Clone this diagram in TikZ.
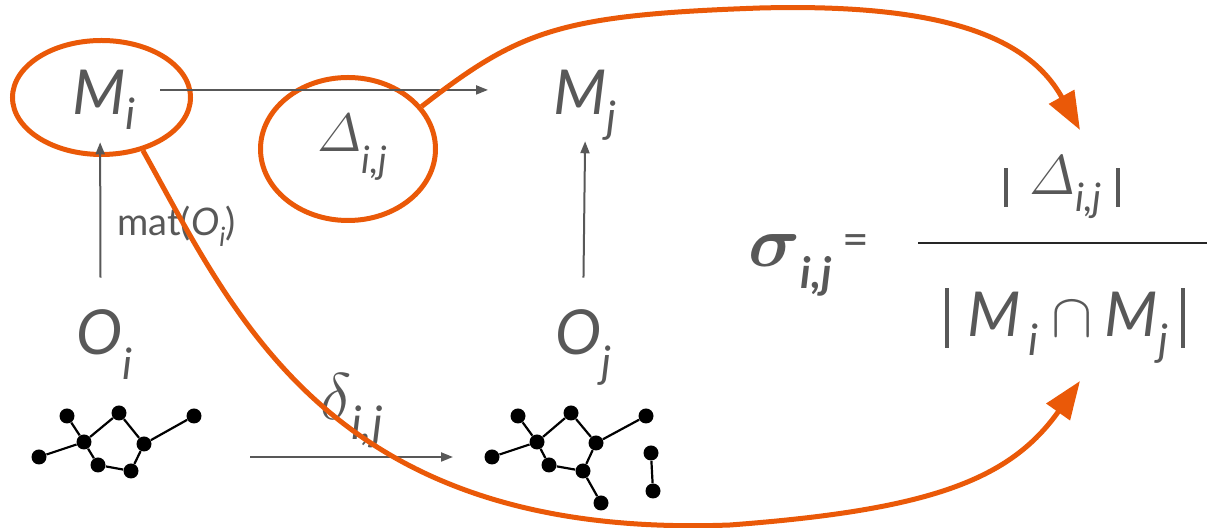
\RequirePackage{fix-cm}
\documentclass[tikz,border=0pt]{standalone}
\usepackage{amsmath}
\usepackage{bm}
\usepackage{fontspec}
\setmainfont{Lato}
\usetikzlibrary{arrows.meta,shapes.geometric}
\definecolor{txtgray}{RGB}{88,88,88}
\definecolor{hlorange}{RGB}{234,89,8}
\newcommand{\lsub}[2][0.3em]{\raisebox{-#1}{\scalebox{0.7}{\itshape #2}}}
\newcommand{\vbar}[2]{\rule[-#2]{2.3pt}{#1}}
\begin{document}
\begin{tikzpicture}[x=0.5pt,y=-0.5pt,
			lbl/.style={
				inner sep=0pt,
				text=txtgray,
				anchor=base west
			},
			big/.style={font=\fontsize{31}{36}\selectfont},
			ring/.style={
				ellipse,
				draw=hlorange,
				line width=2.5pt,
				inner sep=0pt
			},
			garrow/.style={draw=txtgray,line width=1pt,-{Triangle[length=6pt,width=4.5pt]}},
			oarrow/.style={draw=hlorange,line width=2.5pt,-{Triangle[length=19pt,width=14pt]}},
			atom/.style={circle,fill=black,inner sep=0pt,minimum size=7.5pt},
			bond/.style={line width=1.1pt}
			]
			\useasboundingbox (0,0) rectangle (1207,528);
			%---------------- MATRICES ----------------
			\node[lbl,big] (Mi) at (72,115) {\textit{M}\lsub[0.24em]{i}};
			\node[lbl,big] (Mj) at (553,115) {\textit{M}\lsub[0.29em]{j}};
			\node[ring,minimum width=89pt,minimum height=57pt] (elMi) at (101.5,97.5) {};
			\node[ring,minimum width=87.5pt,minimum height=71.5pt] (elD) at (348,149) {};
			\node[lbl,font=\fontsize{27}{32}\selectfont] (D) at (317,152) {$\varDelta$\lsub[0.4em]{i,j}};
			\draw[garrow] ([shift={(12pt,10pt)}]Mi.mid east) -- ([shift={(-32.5pt,10pt)}]Mj.mid west);
			%---------------- OBJECTS ----------------
			\node[lbl,big] (Oi) at (76,355) {\textit{O}\lsub[0.4em]{i}};
			\node[lbl,big] (Oj) at (555,355) {\textit{O}\lsub[0.37em]{j}};
			\draw[garrow] ([shift={(-2pt,16pt)}]Oi.north) -- ([shift={(-2pt,-6pt)}]Mi.south)
				node[pos=0.38,right=8pt,text=txtgray,inner sep=0pt,font=\fontsize{19}{23}\selectfont] (mat) {mat(\textit{O}\lsub[0.3em]{i})};
			\draw[garrow] ([shift={(0pt,16pt)}]Oj.north) -- (Mj.south);
			%---------------- MOLECULE I ----------------
			\node[atom] (a1) at (39,457) {};
			\node[atom] (b1) at (67,416) {};
			\node[atom] (c1) at (84,442) {};
			\node[atom] (d1) at (119,413) {};
			\node[atom] (e1) at (144,444) {};
			\node[atom] (f1) at (194,416) {};
			\node[atom] (g1) at (98,465) {};
			\node[atom] (h1) at (131,471) {};
			\draw[bond] (a1)--(c1) (b1)--(c1) (c1)--(d1) (d1)--(e1) (e1)--(f1) (c1)--(g1) (g1)--(h1) (h1)--(e1);
			%---------------- MOLECULE J ----------------
			\node[atom] (a2) at (492,457) {};
			\node[atom] (b2) at (518,416) {};
			\node[atom] (c2) at (537,442) {};
			\node[atom] (d2) at (571,413) {};
			\node[atom] (e2) at (596,443) {};
			\node[atom] (f2) at (646,416) {};
			\node[atom] (g2) at (549,465) {};
			\node[atom] (h2) at (583,471) {};
			\node[atom] (k2) at (601,503) {};
			\node[atom] (l2) at (651,453) {};
			\node[atom] (m2) at (653,491) {};
			\draw[bond] (a2)--(c2) (b2)--(c2) (c2)--(d2) (d2)--(e2) (e2)--(f2) (c2)--(g2) (g2)--(h2) (h2)--(e2) (h2)--(k2) (l2)--(m2);
			\draw[garrow] ([xshift=28pt]f1.center |- a1.center) -- ([xshift=-19.5pt]a2.center)
				node[midway,above=4pt,text=txtgray,inner sep=0pt,font=\fontsize{33}{38}\selectfont] (dl) {$\delta$\lsub[0.3em]{i,j}};
			%---------------- FORMULA ----------------
			\node[lbl,font=\fontsize{36}{42}\selectfont] (sig) at (748,267) {$\bm{\sigma}$\raisebox{-0.3em}{\scalebox{0.6}{\bfseries\itshape i,j}}};
			\node[text=txtgray,inner sep=0pt,font=\fontsize{23}{26}\selectfont] (eq) at (856,245) {=};
			\draw[line width=1.3pt,black!85] (918,243) -- (1207,243);
			\node[lbl,anchor=base,font=\fontsize{28}{32}\selectfont] (num) at (1062,195) {\vbar{19.5pt}{6pt}\hspace{.38em}$\varDelta$\lsub[0.3em]{i,j}\hspace{.25em}\vbar{19.5pt}{6pt}};
			\node[lbl,anchor=base,big] (den) at (1065,337) {\vbar{30pt}{5.5pt}\hspace{.3em}\textit{M}\hspace{.12em}\lsub[0.3em]{i}\hspace{.2em}$\cap$\hspace{.2em}\textit{M}\lsub[0.3em]{j}\hspace{.2em}\vbar{30pt}{5.5pt}};
			%---------------- LINKS ----------------
			\coordinate (numtip) at (1080,130);
			\coordinate (dentip) at (1080,381);
			\draw[oarrow] (elD.30) .. controls (520,30) and (560,15) .. (760,8) .. controls (950,3) and (1030,40) .. (numtip);
			\draw[oarrow] (elMi.-52) .. controls (235,315) and (330,540) .. (730,525) .. controls (930,510) and (1010,480) .. (dentip);
		\end{tikzpicture}
\end{document}
